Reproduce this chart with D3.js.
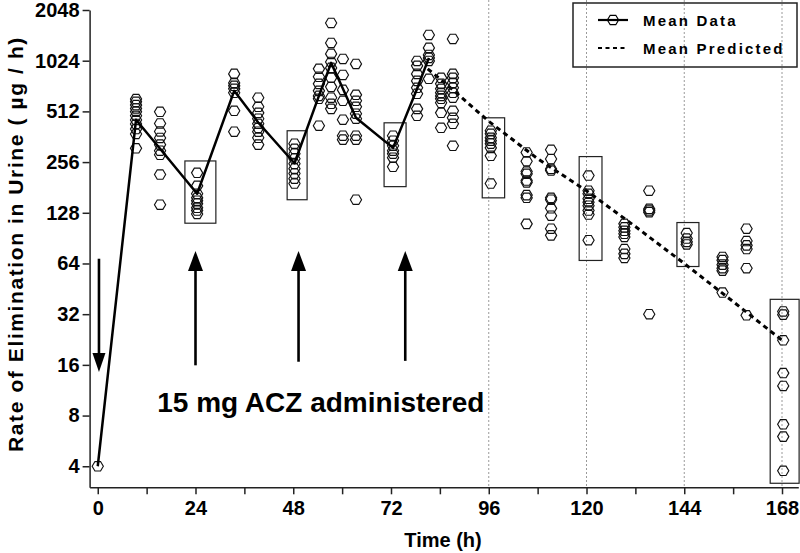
<!DOCTYPE html>
<html><head><meta charset="utf-8">
<script src="https://cdn.jsdelivr.net/npm/d3@7"></script>
<style>
body{margin:0;background:#fff}
text{font-family:"Liberation Sans",Arial,Helvetica,sans-serif;font-weight:bold;fill:#000}
</style>
</head><body>
<svg id="chart" width="800" height="553"></svg>
<script>
// ---- data ----
const sampleTimes = [0, 9.4, 15.3, 24.4, 33.5, 39.4, 48.3, 54.3, 57.3, 60.2, 63.4, 72.5, 78.4, 81.3, 84.3, 87.2,
                     96.5, 105.3, 111.3, 120.5, 129.3, 135.4, 144.6, 153.4, 159.3, 168.3];
const sampleValues = [
  [4],
  [606, 584, 558, 533, 509, 482, 455, 431, 402, 376, 309],
  [509, 434, 389, 356, 325, 299, 283, 216, 143],
  [221, 185, 166, 157, 151, 145, 137, 132, 126],
  [855, 756, 726, 697, 660, 516, 388],
  [617, 545, 502, 463, 432, 409, 388, 357, 325],
  [329, 307, 287, 268, 250, 234, 219, 204, 191],
  [916, 822, 746, 678, 633, 608, 421],
  [1715, 1305, 1124, 1007, 928, 810, 716, 617, 568, 530],
  [1049, 843, 687, 592, 457, 367, 348],
  [980, 642, 592, 545, 496, 463, 367, 348, 153],
  [367, 343, 320, 299, 287, 272, 240],
  [1021, 954, 855, 777, 707, 651, 530, 482],
  [1456, 1220, 1108, 1064, 1021, 799],
  [810, 746, 697, 660, 633, 608, 576, 502, 409],
  [1379, 855, 810, 756, 707, 660, 617, 516, 469, 432, 320],
  [393, 377, 357, 343, 329, 311, 279, 191],
  [292, 259, 225, 218, 199, 194, 163, 157, 110],
  [303, 267, 233, 228, 157, 153, 136, 123, 103, 94],
  [213, 173, 166, 155, 148, 141, 132, 125, 88],
  [110, 105, 100, 96, 92, 78, 73, 69],
  [173, 135, 132, 129, 32],
  [97, 90, 86, 83],
  [70, 67, 63, 60, 58, 43],
  [103, 87, 82, 78, 60, 31.5],
  [33.2, 31.8, 22.4, 14.3, 12, 7.1, 6.0, 3.76]
];
const meanTimes  = [0, 9.4, 15.3, 24.4, 33.5, 39.4, 48.3, 54.3, 57.3, 60.2, 63.4, 72.5, 78.4, 81.3];
const meanValues = [4, 457, 307, 166, 678, 440, 252, 633, 994, 697, 469, 311, 697, 1064];
const predTimes  = [81, 84, 87.2, 96, 108, 120, 132, 144, 156, 168];
const predValues = [916, 799, 687, 447, 268, 173, 106, 64, 38, 22.4];
// boxes: [timeStart, timeEnd, valueLow, valueHigh]
const boxes = [
  [21.4, 29.0, 111, 260],
  [46.5, 51.4, 153, 393],
  [70.3, 75.7, 183, 438],
  [94.4, 99.9, 157, 469],
  [118.2, 123.8, 66.7, 276],
  [142.2, 147.6, 61.4, 112],
  [165.1, 172.2, 3.17, 39.2]
];
const gridTimes = [96, 120, 144, 168];
const yTicks = [4, 8, 16, 32, 64, 128, 256, 512, 1024, 2048];
const xTicks = d3.range(0, 169, 12);
const xLabelTimes = [0, 24, 48, 72, 96, 120, 144, 168];
// dose arrows (up) and initial dose arrow (down)
const upArrowTimes = [24.0, 49.3, 75.5];
const upArrowTop = 76;
const upArrowBottom = [15.9, 16.7, 16.9];
const downArrow = {t: 0.3, top: 68.3, tip: 14.5};
const annotation = {text: "15 mg ACZ administered", t: 14.6, v: 8.4};
const legendItems = ["Mean Data", "Mean Predicted"];

// ---- chart ----
const svg = d3.select("#chart");
svg.append("rect").attr("width", 800).attr("height", 553).attr("fill", "#fff");

const x = d3.scaleLinear().domain([-2, 172]).range([89.6, 798.3]);
const y = d3.scaleLog().base(2).domain([3, 2048]).range([487.3, 10]);

// gridlines
svg.append("g").selectAll("line").data(gridTimes).join("line")
  .attr("x1", d => x(d)).attr("x2", d => x(d))
  .attr("y1", 0).attr("y2", y(3))
  .attr("stroke", "#9a9a9a").attr("stroke-width", 1).attr("stroke-dasharray", "2,2");

// boxes
svg.append("g").selectAll("rect").data(boxes).join("rect")
  .attr("x", d => x(d[0])).attr("width", d => x(d[1]) - x(d[0]))
  .attr("y", d => y(d[3])).attr("height", d => y(d[2]) - y(d[3]))
  .attr("fill", "none").attr("stroke", "#222").attr("stroke-width", 1.2);

// axes
const yAxis = svg.append("g").attr("transform", `translate(${x(-2)},0)`)
  .call(d3.axisLeft(y).tickValues(yTicks).tickFormat(d3.format("d")).tickSize(7).tickSizeOuter(0).tickPadding(3));
const xAxis = svg.append("g").attr("transform", `translate(0,${y(3)})`)
  .call(d3.axisBottom(x).tickValues(xTicks).tickFormat(d => xLabelTimes.includes(d) ? d : "").tickSize(7).tickSizeOuter(0).tickPadding(7));
[yAxis, xAxis].forEach(a => {
  a.selectAll("path, line").attr("stroke", "#222").attr("stroke-width", 1.5);
  a.selectAll("text").attr("font-size", 20).attr("font-weight", "bold").attr("fill", "#000")
    .attr("font-family", '"Liberation Sans",Arial,sans-serif');
});

// axis titles
svg.append("text").attr("x", 443).attr("y", 547).attr("text-anchor", "middle")
  .attr("font-size", 20).text("Time (h)");
svg.append("text").attr("transform", "translate(23,244) rotate(-90)").attr("text-anchor", "middle")
  .attr("font-size", 21).attr("letter-spacing", 1.6).text("Rate of Elimination in Urine ( \u00b5g / h)");

// predicted line
const line = d3.line().x(d => x(d[0])).y(d => y(d[1]));
svg.append("path").datum(d3.zip(predTimes, predValues)).attr("d", line)
  .attr("fill", "none").attr("stroke", "#000").attr("stroke-width", 3).attr("stroke-dasharray", "5,4");

// points (hexagons)
const hexR = 5.6, hexH = 4.7;
const hexPath = `M${hexR},0L${hexR/2},${hexH}L${-hexR/2},${hexH}L${-hexR},0L${-hexR/2},${-hexH}L${hexR/2},${-hexH}Z`;
const pts = [];
sampleTimes.forEach((t, i) => sampleValues[i].forEach(v => pts.push([t, v])));
svg.append("g").selectAll("path").data(pts).join("path")
  .attr("transform", d => `translate(${x(d[0])},${y(d[1])})`)
  .attr("d", hexPath).attr("fill", "none").attr("stroke", "#111").attr("stroke-width", 1.15);

// mean data line
svg.append("path").datum(d3.zip(meanTimes, meanValues)).attr("d", line)
  .attr("fill", "none").attr("stroke", "#000").attr("stroke-width", 2.5).attr("stroke-linejoin", "round");

// arrows
const ag = svg.append("g");
upArrowTimes.forEach((t, i) => {
  const ax = x(t), top = y(upArrowTop), bot = y(upArrowBottom[i]);
  ag.append("line").attr("x1", ax).attr("x2", ax).attr("y1", top + 15).attr("y2", bot)
    .attr("stroke", "#000").attr("stroke-width", 2.6);
  ag.append("path").attr("d", `M${ax},${top}L${ax - 7.5},${top + 20}L${ax + 7.5},${top + 20}Z`).attr("fill", "#000");
});
{
  const ax = x(downArrow.t), top = y(downArrow.top), tip = y(downArrow.tip);
  ag.append("line").attr("x1", ax).attr("x2", ax).attr("y1", top).attr("y2", tip - 15)
    .attr("stroke", "#000").attr("stroke-width", 2.6);
  ag.append("path").attr("d", `M${ax},${tip}L${ax - 6.5},${tip - 19}L${ax + 6.5},${tip - 19}Z`).attr("fill", "#000");
}
svg.append("text").attr("x", x(annotation.t)).attr("y", y(annotation.v))
  .attr("font-size", 28).text(annotation.text);

// legend
const lg = svg.append("g");
lg.append("rect").attr("x", 573).attr("y", 3).attr("width", 224).attr("height", 64)
  .attr("fill", "none").attr("stroke", "#222").attr("stroke-width", 1.5);
lg.append("line").attr("x1", 598).attr("x2", 628).attr("y1", 20).attr("y2", 20).attr("stroke", "#000").attr("stroke-width", 2.2);
lg.append("path").attr("transform", "translate(613,20)").attr("d", hexPath).attr("fill", "none").attr("stroke", "#000").attr("stroke-width", 1.2);
lg.append("line").attr("x1", 598).attr("x2", 628).attr("y1", 48).attr("y2", 48).attr("stroke", "#000").attr("stroke-width", 2.2).attr("stroke-dasharray", "4,3.5");
lg.selectAll("text.leg").data(legendItems).join("text").attr("class", "leg")
  .attr("x", 643).attr("y", (d, i) => 26 + i * 28).attr("font-size", 15).attr("letter-spacing", 2.2).text(d => d);
</script>
</body></html>
